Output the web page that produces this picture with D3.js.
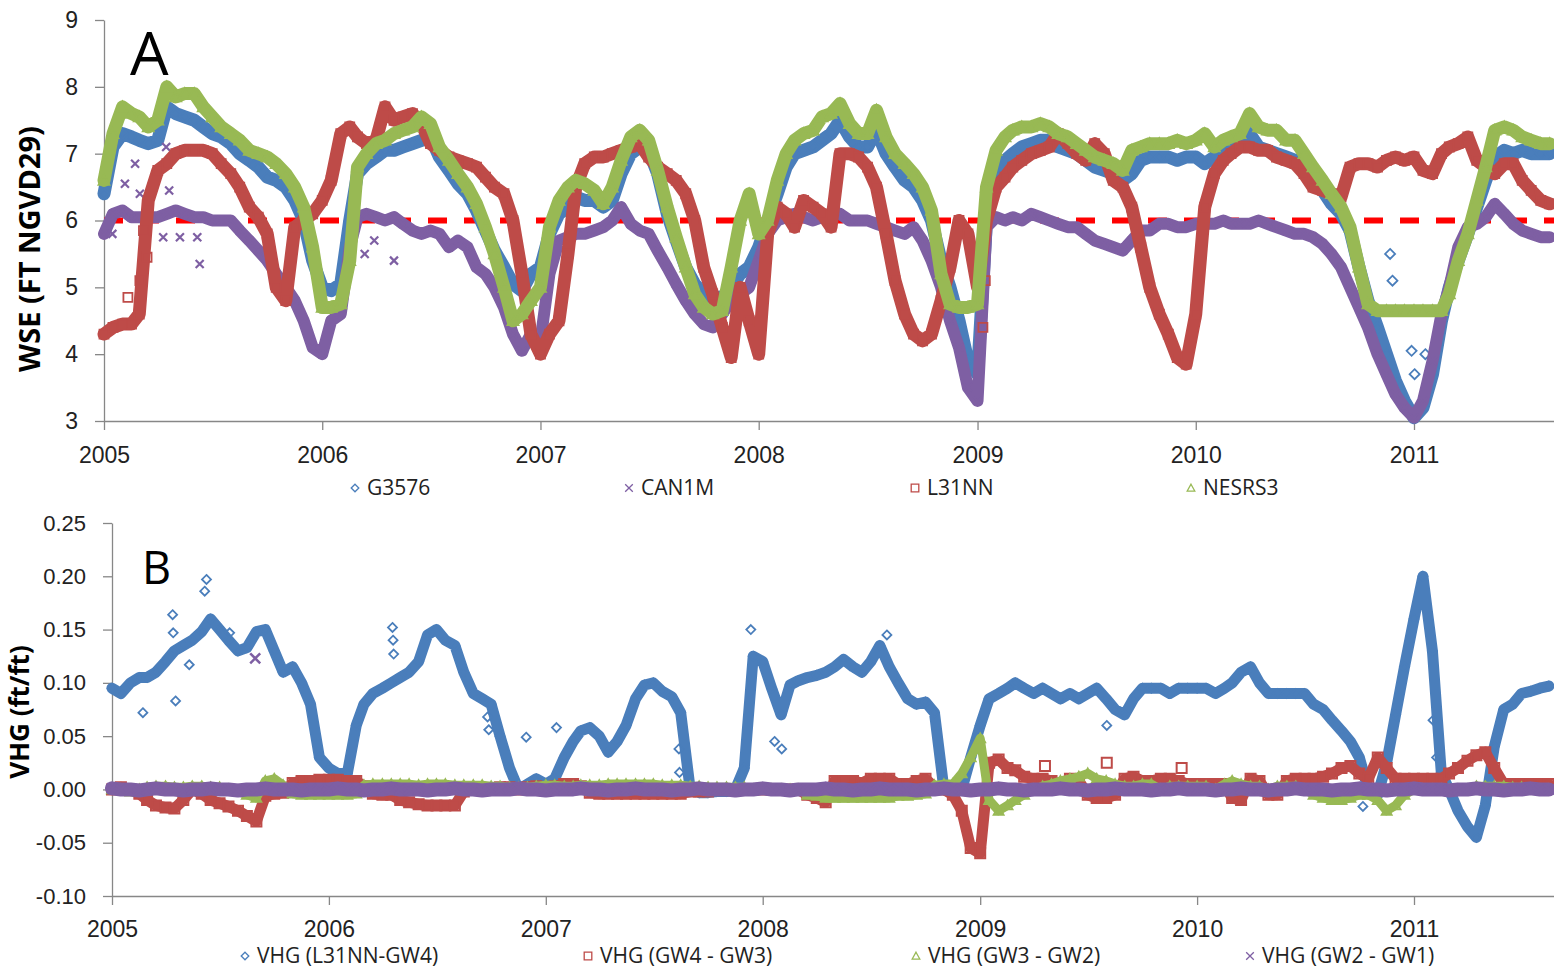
<!DOCTYPE html>
<html>
<head>
<meta charset="utf-8">
<script src="https://cdn.jsdelivr.net/npm/d3@7"></script>
<style>
  body { margin: 0; background: #fff; }
  svg { display: block; font-family: "Open Sans", "Liberation Sans", sans-serif; }
</style>
</head>
<body>
<svg id="chart" width="1554" height="971"></svg>
<script>
const yearTicks = [2005, 2006, 2007, 2008, 2009, 2010, 2011];
const wseTicks = [3, 4, 5, 6, 7, 8, 9];
const vhgTicks = [-0.10, -0.05, 0, 0.05, 0.10, 0.15, 0.20, 0.25];
const wseNames = ["G3576", "CAN1M", "L31NN", "NESRS3"];
const vhgNames = ["VHG (L31NN-GW4)", "VHG (GW4 - GW3)", "VHG (GW3 - GW2)", "VHG (GW2 - GW1)"];
const wseThreshold = 6;

const g3576 = [
  6.4, 7.1, 7.3, 7.25, 7.2, 7.15, 7.2, 7.7, 7.6, 7.55, 7.5, 7.4,
  7.3, 7.25, 7.15, 7.0, 6.9, 6.8, 6.65, 6.6, 6.5, 6.3, 6.0, 5.4,
  5.0, 4.95, 5.05, 6.0, 6.7, 6.85, 6.95, 7.05, 7.05, 7.1, 7.15, 7.2,
  7.25, 6.95, 6.75, 6.55, 6.4, 6.15, 5.85, 5.55, 5.3, 5.05, 4.95, 5.2,
  5.3, 5.8, 6.1, 6.2, 6.35, 6.3, 6.3, 6.2, 6.3, 6.7, 7.0, 7.1,
  7.05, 6.7, 6.1, 5.7, 5.3, 5.05, 4.9, 4.85, 4.85, 5.0, 5.2, 5.3,
  5.6, 6.0, 6.4, 6.8, 7.0, 7.05, 7.1, 7.2, 7.3, 7.5, 7.25, 7.1,
  7.1, 7.35, 7.0, 6.8, 6.6, 6.5, 6.3, 6.0, 5.4, 5.0, 4.5, 3.9,
  3.7, 6.0, 6.7, 6.9, 7.0, 7.1, 7.15, 7.2, 7.2, 7.1, 7.05, 7.0,
  6.9, 6.8, 6.75, 6.7, 6.6, 6.7, 6.9, 6.95, 6.95, 6.95, 6.9, 6.95,
  6.95, 6.85, 6.95, 7.05, 7.1, 7.1, 7.3, 7.1, 7.05, 7.0, 6.95, 6.9,
  6.85, 6.65, 6.45, 6.25, 6.1, 5.85, 5.3, 4.8, 4.4, 4.0, 3.6, 3.3,
  3.05, 3.2, 3.7, 4.5, 5.0, 5.4, 5.8, 6.2, 6.6, 6.95, 7.05, 7.0,
  7.05, 7.0, 7.0, 7.0
];
const can1m = [
  5.8, 6.1, 6.15, 6.05, 6.05, 6.05, 6.05, 6.1, 6.15, 6.1, 6.05, 6.05,
  6.0, 6.0, 6.0, 5.85, 5.7, 5.55, 5.4, 5.2, 5.0, 4.8, 4.5, 4.1,
  4.0, 4.5, 4.6, 5.6, 6.05, 6.1, 6.05, 6.0, 6.05, 5.95, 5.85, 5.8,
  5.85, 5.8, 5.6, 5.7, 5.6, 5.3, 5.2, 5.0, 4.7, 4.3, 4.05, 4.3,
  4.2, 5.2, 5.7, 5.75, 5.8, 5.8, 5.85, 5.9, 6.0, 6.2, 5.95, 5.85,
  5.8, 5.55, 5.3, 5.05, 4.8, 4.6, 4.45, 4.4, 4.6, 4.8, 4.9, 5.0,
  5.4, 5.8, 6.0, 6.05, 6.1, 6.05, 6.0, 6.05, 6.1, 6.1, 6.0, 6.0,
  6.0, 5.95, 5.9, 5.85, 5.8, 5.9, 5.7, 5.4, 5.0, 4.5, 4.1, 3.5,
  3.3, 5.9, 6.05, 6.0, 6.05, 6.0, 6.1, 6.05, 6.0, 5.95, 5.9, 5.9,
  5.8, 5.7, 5.65, 5.6, 5.55, 5.7, 5.85, 5.85, 5.95, 5.95, 5.9, 5.9,
  5.95, 5.95, 5.95, 6.0, 5.95, 5.95, 5.95, 6.0, 5.95, 5.9, 5.85, 5.8,
  5.8, 5.75, 5.65, 5.5, 5.3, 5.0, 4.7, 4.4, 4.0, 3.7, 3.4, 3.2,
  3.05, 3.3, 3.9, 4.6, 5.0, 5.6, 5.9, 5.95, 6.05, 6.25, 6.1, 5.95,
  5.85, 5.8, 5.75, 5.75
];
const l31nn = [
  4.3, 4.4, 4.45, 4.45, 4.6, 6.3, 6.75, 6.85, 7.0, 7.05, 7.05, 7.05,
  7.0, 6.85, 6.7, 6.5, 6.2, 6.05, 5.8, 5.0, 4.8, 5.9, 6.0, 6.1,
  6.3, 6.6, 7.3, 7.4, 7.25, 7.15, 7.2, 7.7, 7.5, 7.55, 7.6, 7.45,
  7.15, 7.05, 6.95, 6.9, 6.85, 6.8, 6.65, 6.5, 6.4, 6.0, 5.2, 4.3,
  4.0, 4.3, 4.5, 5.5, 6.5, 6.85, 6.95, 6.95, 7.0, 7.05, 7.1, 7.15,
  6.95, 6.8, 6.7, 6.6, 6.4, 6.0, 5.3, 4.9, 4.4, 3.95, 5.0, 4.5,
  4.0, 5.8, 6.2, 6.1, 5.9, 6.3, 6.2, 6.1, 5.9, 7.0, 7.0, 6.95,
  6.8, 6.5, 5.8, 5.1, 4.6, 4.3, 4.2, 4.3, 4.8, 5.3, 6.0, 5.8,
  5.0, 6.0, 6.5, 6.65, 6.8, 6.9, 7.0, 7.05, 7.1, 7.3, 7.15, 7.0,
  6.9, 7.15, 7.0, 6.6, 6.5, 6.2, 5.6, 5.0, 4.6, 4.3, 3.95, 3.85,
  4.6, 6.2, 6.7, 6.9, 7.0, 7.1, 7.1, 7.05, 7.05, 6.95, 6.9, 6.85,
  6.7, 6.5, 6.45, 6.4, 6.35, 6.8, 6.85, 6.85, 6.8, 6.9, 6.95, 6.9,
  6.95, 6.75, 6.7, 7.0, 7.1, 7.15, 7.25, 6.9, 6.8, 6.7, 6.85, 6.85,
  6.6, 6.45, 6.3, 6.25
];
const nesrs3 = [
  6.6, 7.3, 7.7, 7.6, 7.55, 7.4, 7.5, 8.0, 7.85, 7.9, 7.9, 7.7,
  7.55, 7.4, 7.3, 7.2, 7.05, 7.0, 6.95, 6.85, 6.7, 6.5, 6.2, 5.6,
  4.7, 4.7, 4.75, 5.4, 6.8, 7.0, 7.15, 7.2, 7.3, 7.35, 7.4, 7.55,
  7.45, 7.1, 6.9, 6.7, 6.5, 6.25, 5.9, 5.5, 5.0, 4.5, 4.6, 4.8,
  5.0, 5.9, 6.3, 6.5, 6.6, 6.55, 6.45, 6.25, 6.5, 6.9, 7.25, 7.35,
  7.2, 6.75, 6.2, 5.75, 5.3, 4.9, 4.7, 4.6, 4.65, 5.3, 6.0, 6.4,
  5.8, 6.0, 6.6, 7.0, 7.2, 7.3, 7.35, 7.55, 7.6, 7.75, 7.45, 7.3,
  7.3, 7.65, 7.25, 7.0, 6.85, 6.7, 6.5, 6.15, 5.2, 4.75, 4.7, 4.7,
  4.75, 6.5, 7.05, 7.25, 7.35, 7.4, 7.4, 7.45, 7.4, 7.3, 7.25, 7.15,
  7.05, 6.95, 6.9, 6.85, 6.75, 7.05, 7.1, 7.15, 7.15, 7.15, 7.2, 7.15,
  7.2, 7.3, 7.1, 7.2, 7.25, 7.3, 7.6, 7.4, 7.35, 7.35, 7.2, 7.2,
  7.0, 6.8, 6.6, 6.4, 6.2, 5.9, 5.3, 4.75, 4.65, 4.65, 4.65, 4.65,
  4.65, 4.65, 4.65, 4.65, 4.9, 5.4, 5.8, 6.3, 6.8, 7.35, 7.4, 7.35,
  7.25, 7.2, 7.15, 7.15
];

const vhgL31Gw4 = [
  0.095, 0.09, 0.1, 0.105, 0.105, 0.11, 0.12, 0.13, 0.135, 0.14, 0.148, 0.16,
  0.15, 0.14, 0.13, 0.133, 0.148, 0.15, 0.13, 0.11, 0.115, 0.1, 0.08, 0.03,
  0.02, 0.015, 0.015, 0.06, 0.08, 0.09, 0.095, 0.1, 0.105, 0.11, 0.12, 0.145,
  0.15, 0.14, 0.135, 0.11, 0.09, 0.085, 0.08, 0.05, 0.02, 0.0, 0.005, 0.01,
  0.005, 0.01, 0.03, 0.045, 0.055, 0.058, 0.05, 0.035, 0.045, 0.06, 0.085, 0.098,
  0.1, 0.092, 0.087, 0.072, 0.0, -0.003, -0.003, -0.002, -0.002, 0.0, 0.02, 0.125,
  0.12, 0.095, 0.07, 0.098, 0.102, 0.105, 0.107, 0.11, 0.115, 0.122, 0.115, 0.11,
  0.12, 0.135, 0.115, 0.1, 0.085, 0.08, 0.082, 0.072, 0.0, -0.003, 0.0, 0.03,
  0.06, 0.085, 0.09, 0.095, 0.1, 0.095, 0.09, 0.095, 0.09, 0.085, 0.09, 0.085,
  0.09, 0.095, 0.085, 0.075, 0.07, 0.085, 0.095, 0.095, 0.095, 0.09, 0.095, 0.095,
  0.095, 0.095, 0.09, 0.095, 0.1, 0.11, 0.115, 0.1, 0.09, 0.09, 0.09, 0.09,
  0.09, 0.08, 0.075, 0.065, 0.055, 0.045, 0.03, 0.0, -0.005, 0.025, 0.07, 0.115,
  0.16, 0.2, 0.13, 0.015, 0.0, -0.02, -0.035, -0.045, -0.015, 0.04, 0.075, 0.08,
  0.09, 0.092, 0.095, 0.097
];
const vhgGw4Gw3 = [
  0.0, 0.002, 0.0, -0.004, -0.01, -0.015, -0.017, -0.018, -0.01, 0.0, -0.004, -0.01,
  -0.013, -0.016, -0.02, -0.025, -0.03, -0.006, -0.004, -0.003, 0.006, 0.008, 0.008, 0.009,
  0.009, 0.009, 0.008, 0.008, 0.003, -0.004, -0.005, -0.005, -0.01, -0.012, -0.014, -0.015,
  -0.015, -0.015, -0.015, -0.002, 0.0, 0.0, 0.0, 0.002, 0.002, 0.0, 0.002, 0.003,
  0.0, 0.003, 0.005, 0.005, 0.003, -0.003, -0.004, -0.004, -0.004, -0.004, -0.004, -0.004,
  -0.004, -0.004, -0.004, -0.004, -0.002, -0.002, -0.002, 0.0, 0.0, 0.0, 0.0, 0.0,
  0.0, 0.0, 0.0, 0.0, 0.0, -0.005, -0.008, -0.012, 0.008, 0.008, 0.008, 0.006,
  0.01, 0.01, 0.01, 0.005, 0.005, 0.008, 0.01, 0.002, 0.0, -0.005, -0.02, -0.055,
  -0.06, 0.025, 0.028, 0.02, 0.018, 0.012, 0.01, 0.01, 0.008, 0.005, 0.01, 0.008,
  -0.005, -0.008, -0.008, -0.005, 0.01, 0.012, 0.008, 0.008, 0.01, 0.01, 0.008, 0.005,
  0.005, 0.005, 0.005, 0.005, -0.008, -0.01, 0.01, 0.008, -0.005, -0.005, 0.008, 0.01,
  0.01, 0.01, 0.012, 0.015, 0.02, 0.022, 0.015, 0.01, 0.03, 0.02, 0.01, 0.01,
  0.01, 0.01, 0.01, 0.01, 0.015, 0.02, 0.027, 0.032, 0.035, 0.02, 0.005, 0.005,
  0.005, 0.005, 0.005, 0.005
];
const vhgGw3Gw2 = [
  0.0, 0.0, -0.002, 0.0, 0.002, 0.003, 0.003, 0.002, 0.002, 0.003, 0.003, 0.002,
  0.002, 0.0, -0.002, -0.005, -0.008, 0.008, 0.01, 0.004, -0.004, -0.005, -0.005, -0.005,
  -0.005, -0.005, -0.005, -0.004, 0.004, 0.005, 0.005, 0.005, 0.005, 0.005, 0.004, 0.005,
  0.005, 0.005, 0.004, 0.004, 0.004, 0.004, 0.003, 0.003, 0.002, 0.002, 0.002, 0.003,
  0.004, 0.004, 0.003, 0.003, 0.004, 0.004, 0.004, 0.005, 0.005, 0.005, 0.005, 0.005,
  0.005, 0.004, 0.004, 0.004, 0.003, 0.003, 0.002, 0.002, 0.002, 0.002, 0.002, 0.0,
  0.0, 0.0, 0.0, 0.0, 0.0, -0.005, -0.006, -0.008, -0.008, -0.008, -0.008, -0.008,
  -0.008, -0.008, -0.008, -0.006, -0.006, -0.005, -0.004, 0.004, 0.005, 0.005, 0.015, 0.03,
  0.048, -0.01, -0.02, -0.015, -0.01, -0.005, 0.0, 0.003, 0.005, 0.008, 0.01, 0.012,
  0.015, 0.01, 0.008, 0.005, 0.003, 0.003, 0.005, 0.005, 0.0, 0.003, 0.003, 0.003,
  0.003, 0.003, 0.0, 0.005, 0.008, 0.005, 0.003, 0.003, 0.0, 0.003, 0.003, 0.003,
  0.0, -0.005, -0.008, -0.01, -0.01, -0.008, -0.005, -0.005, -0.01, -0.02, -0.015, -0.005,
  0.0, 0.0, 0.0, 0.0, 0.0, 0.0, 0.0, 0.003, 0.003, 0.003, 0.003, 0.002,
  0.002, 0.0, 0.0, 0.0
];
const vhgGw2Gw1 = [
  0.001, 0.0, 0.0, -0.001, 0.0, 0.001, 0.0, 0.0, -0.001, 0.0, 0.0, 0.001,
  0.0, 0.0, -0.001, 0.0, 0.0, 0.001, 0.0, 0.0, 0.0, -0.001, 0.0, 0.0,
  0.0, 0.001, 0.0, 0.0, -0.001, 0.0, 0.0, 0.001, 0.0, 0.0, 0.0, -0.001,
  0.0, 0.0, 0.001, 0.0, 0.0, -0.001, 0.0, 0.0, 0.0, 0.001, 0.0, 0.0,
  -0.001, 0.0, 0.0, 0.0, 0.001, 0.0, 0.0, -0.001, 0.0, 0.0, 0.001, 0.0,
  0.0, 0.0, -0.001, 0.0, 0.0, 0.001, 0.0, 0.0, 0.0, -0.001, 0.0, 0.0,
  0.001, 0.0, 0.0, -0.001, 0.0, 0.0, 0.0, 0.001, 0.0, 0.0, -0.001, 0.0,
  0.0, 0.001, 0.0, 0.0, 0.0, -0.001, 0.0, 0.0, 0.001, 0.0, 0.0, -0.001,
  0.0, 0.0, 0.001, 0.0, 0.0, -0.001, 0.0, 0.0, 0.0, 0.001, 0.0, 0.0,
  -0.001, 0.0, 0.0, 0.001, 0.0, 0.0, 0.0, -0.001, 0.0, 0.0, 0.001, 0.0,
  0.0, 0.0, -0.001, 0.0, 0.0, 0.001, 0.0, 0.0, -0.001, 0.0, 0.0, 0.001,
  0.0, 0.0, 0.0, -0.001, 0.0, 0.0, 0.001, 0.0, 0.0, -0.001, 0.0, 0.0,
  0.001, 0.0, 0.0, 0.0, -0.001, 0.0, 0.0, 0.001, 0.0, 0.0, -0.001, 0.0,
  0.0, 0.001, 0.0, 0.0
];

// isolated readings that sit off the main bands
const g3576Extra = [["2010-11-22", 5.5], ["2010-11-26", 5.1], ["2010-12-28", 4.05], ["2011-01-02", 3.7], ["2011-01-20", 4.0], ["2011-01-24", 3.5]];
const can1mExtra = [["2005-01-15", 5.8], ["2005-02-05", 6.55], ["2005-02-22", 6.85], ["2005-03-02", 6.4], ["2005-04-10", 5.75], ["2005-04-15", 7.1],
  ["2005-04-20", 6.45], ["2005-05-08", 5.75], ["2005-06-06", 5.75], ["2005-06-10", 5.35], ["2006-03-13", 5.5], ["2006-03-29", 5.7], ["2006-05-01", 5.4]];
const l31nnExtra = [["2005-02-10", 4.85], ["2005-03-02", 5.1], ["2005-03-08", 5.85], ["2005-03-14", 5.45], ["2009-01-10", 4.4], ["2009-01-14", 5.1]];
const vhgL31Extra = [["2005-02-22", 0.072], ["2005-04-13", 0.164], ["2005-04-14", 0.147], ["2005-04-18", 0.083], ["2005-05-11", 0.117], ["2005-06-06", 0.186],
  ["2005-06-09", 0.197], ["2005-07-18", 0.147], ["2006-04-18", 0.152], ["2006-04-19", 0.14], ["2006-04-20", 0.127], ["2006-09-25", 0.068], ["2006-09-27", 0.056],
  ["2006-11-29", 0.049], ["2007-01-19", 0.058], ["2007-08-13", 0.038], ["2007-08-14", 0.016], ["2007-12-12", 0.15], ["2008-01-21", 0.045], ["2008-02-02", 0.038],
  ["2008-07-28", 0.145], ["2009-08-02", 0.06], ["2010-10-07", -0.016], ["2011-02-02", 0.065], ["2011-02-08", 0.03]];
const vhgGw43Extra = [["2009-04-20", 0.022], ["2009-08-02", 0.025], ["2009-12-06", 0.02]];
const vhgGw21Extra = [["2005-08-30", 0.123]];

// ---- drawing ----
const svg = d3.select("#chart");
const parseDay = d3.timeParse("%Y-%m-%d");
const sampleDates = d3.timeMonth.range(new Date(2005, 0, 1), new Date(2011, 8, 1))
  .flatMap(m => [m, d3.timeDay.offset(m, 15)]);

const colors = { blue: "#4a7ebb", purple: "#7e5fa3", red: "#be4b48", green: "#98b954" };
const axisColor = "#878787";
const textColor = "#222";

function markerPath(shape, r) {
  if (shape === "diamond") return `M0,${-r}L${r},0L0,${r}L${-r},0Z`;
  if (shape === "square") return `M${-r},${-r}H${r}V${r}H${-r}Z`;
  if (shape === "triangle") return `M0,${-r}L${r},${r * 0.8}L${-r},${r * 0.8}Z`;
  return `M${-r},${-r}L${r},${r}M${-r},${r}L${r},${-r}`;
}

function drawPanel(p) {
  const g = svg.append("g");
  const x0 = d3.scaleTime().domain([new Date(2005, 0, 1), new Date(2011, 0, 1)]).range([p.left, 1414]);
  const x = d3.scaleTime().domain([x0.domain()[0], x0.invert(1554)]).range([p.left, 1554]);
  const y = d3.scaleLinear().domain(p.yDomain).range([p.bottom, p.top]);

  const yAxis = g.append("g")
    .attr("transform", `translate(${p.left},0)`)
    .call(d3.axisLeft(y).tickValues(p.yTicks).tickSize(9).tickSizeOuter(0).tickPadding(17).tickFormat(p.yFormat));
  const xAxis = g.append("g")
    .attr("transform", `translate(0,${p.bottom})`)
    .call(d3.axisBottom(x).tickValues(yearTicks.map(yr => new Date(yr, 0, 1)))
      .tickSize(9).tickSizeOuter(0).tickPadding(p.xPad).tickFormat(d3.timeFormat("%Y")));
  [yAxis, xAxis].forEach(a => {
    a.selectAll("path, line").attr("stroke", axisColor).attr("stroke-width", 1.3);
    a.selectAll("text").attr("fill", textColor).style("font-size", p.tickFont + "px");
  });
  yAxis.selectAll("text").style("font-size", p.yTickFont + "px");

  // reference level sits behind the data
  if (p.threshold !== undefined) {
    g.append("line")
      .attr("x1", p.left).attr("x2", 1554)
      .attr("y1", y(p.threshold)).attr("y2", y(p.threshold))
      .attr("stroke", "#ff0000")
      .attr("stroke-width", 6)
      .attr("stroke-dasharray", "19,17");
  }

  const line = d3.line().x(d => x(d.date)).y(d => y(d.v));

  p.series.forEach(s => {
    const pts = s.values.map((v, i) => ({ date: sampleDates[i], v }));
    g.append("path")
      .datum(pts)
      .attr("fill", "none")
      .attr("stroke", s.color)
      .attr("stroke-width", s.band)
      .attr("stroke-linejoin", "round")
      .attr("stroke-linecap", "round")
      .attr("d", line);
    const extra = (s.extra || []).map(([d, v]) => ({ date: parseDay(d), v }));
    g.append("g").selectAll("path")
      .data(pts.concat(extra))
      .join("path")
      .attr("transform", d => `translate(${x(d.date)},${y(d.v)})`)
      .attr("d", markerPath(s.shape, s.r))
      .attr("fill", "none")
      .attr("stroke", s.color)
      .attr("stroke-width", s.sw);
  });

  // panel letter
  g.append("text")
    .attr("x", p.letterX).attr("y", p.letterY)
    .attr("fill", "#000")
    .style("font-size", p.letterFont + "px")
    .text(p.letter);

  // y title
  g.append("text")
    .attr("transform", `translate(${p.titleX},${p.titleY}) rotate(-90)`)
    .attr("text-anchor", "middle")
    .attr("fill", "#000")
    .style("font-size", p.titleFont + "px")
    .style("font-weight", "bold")
    .text(p.title);

  // legend
  const lg = g.append("g").attr("transform", `translate(0,${p.legendY})`);
  p.series.forEach((s, i) => {
    lg.append("path")
      .attr("transform", `translate(${p.legendX[i]},0)`)
      .attr("d", markerPath(s.shape, 3.8))
      .attr("fill", "none")
      .attr("stroke", s.color)
      .attr("stroke-width", 1.3);
    lg.append("text")
      .attr("x", p.legendX[i] + 12)
      .attr("dy", "0.35em")
      .attr("fill", textColor)
      .style("font-size", "21px")
      .text(s.name);
  });
}

drawPanel({
  left: 104, top: 20, bottom: 421,
  yDomain: [3, 9], yTicks: wseTicks, yFormat: d3.format("d"),
  tickFont: 23, yTickFont: 23, xPad: 17,
  threshold: wseThreshold,
  letter: "A", letterX: 130, letterY: 75, letterFont: 61,
  title: "WSE (FT NGVD29)", titleX: 40, titleY: 249, titleFont: 29,
  legendY: 488, legendX: [355, 629, 915, 1191],
  series: [
    { name: wseNames[0], values: g3576, extra: g3576Extra, color: colors.blue, shape: "diamond", r: 5, sw: 1.8, band: 13 },
    { name: wseNames[1], values: can1m, extra: can1mExtra, color: colors.purple, shape: "x", r: 4, sw: 2.2, band: 12 },
    { name: wseNames[2], values: l31nn, extra: l31nnExtra, color: colors.red, shape: "square", r: 4.5, sw: 1.8, band: 13 },
    { name: wseNames[3], values: nesrs3, color: colors.green, shape: "triangle", r: 5.5, sw: 1.8, band: 13 }
  ]
});

drawPanel({
  left: 112, top: 523, bottom: 896,
  yDomain: [-0.10, 0.25], yTicks: vhgTicks, yFormat: d => d.toFixed(2),
  tickFont: 23, yTickFont: 22, xPad: 16,
  letter: "B", letterX: 142, letterY: 584, letterFont: 45,
  title: "VHG (ft/ft)", titleX: 29, titleY: 712, titleFont: 26,
  legendY: 956, legendX: [245, 588, 916, 1250],
  series: [
    { name: vhgNames[0], values: vhgL31Gw4, extra: vhgL31Extra, color: colors.blue, shape: "diamond", r: 4.5, sw: 1.8, band: 11 },
    { name: vhgNames[1], values: vhgGw4Gw3, extra: vhgGw43Extra, color: colors.red, shape: "square", r: 5, sw: 2, band: 11 },
    { name: vhgNames[2], values: vhgGw3Gw2, color: colors.green, shape: "triangle", r: 5, sw: 1.8, band: 9 },
    { name: vhgNames[3], values: vhgGw2Gw1, extra: vhgGw21Extra, color: colors.purple, shape: "x", r: 5, sw: 2.5, band: 14 }
  ]
});
</script>
</body>
</html>
